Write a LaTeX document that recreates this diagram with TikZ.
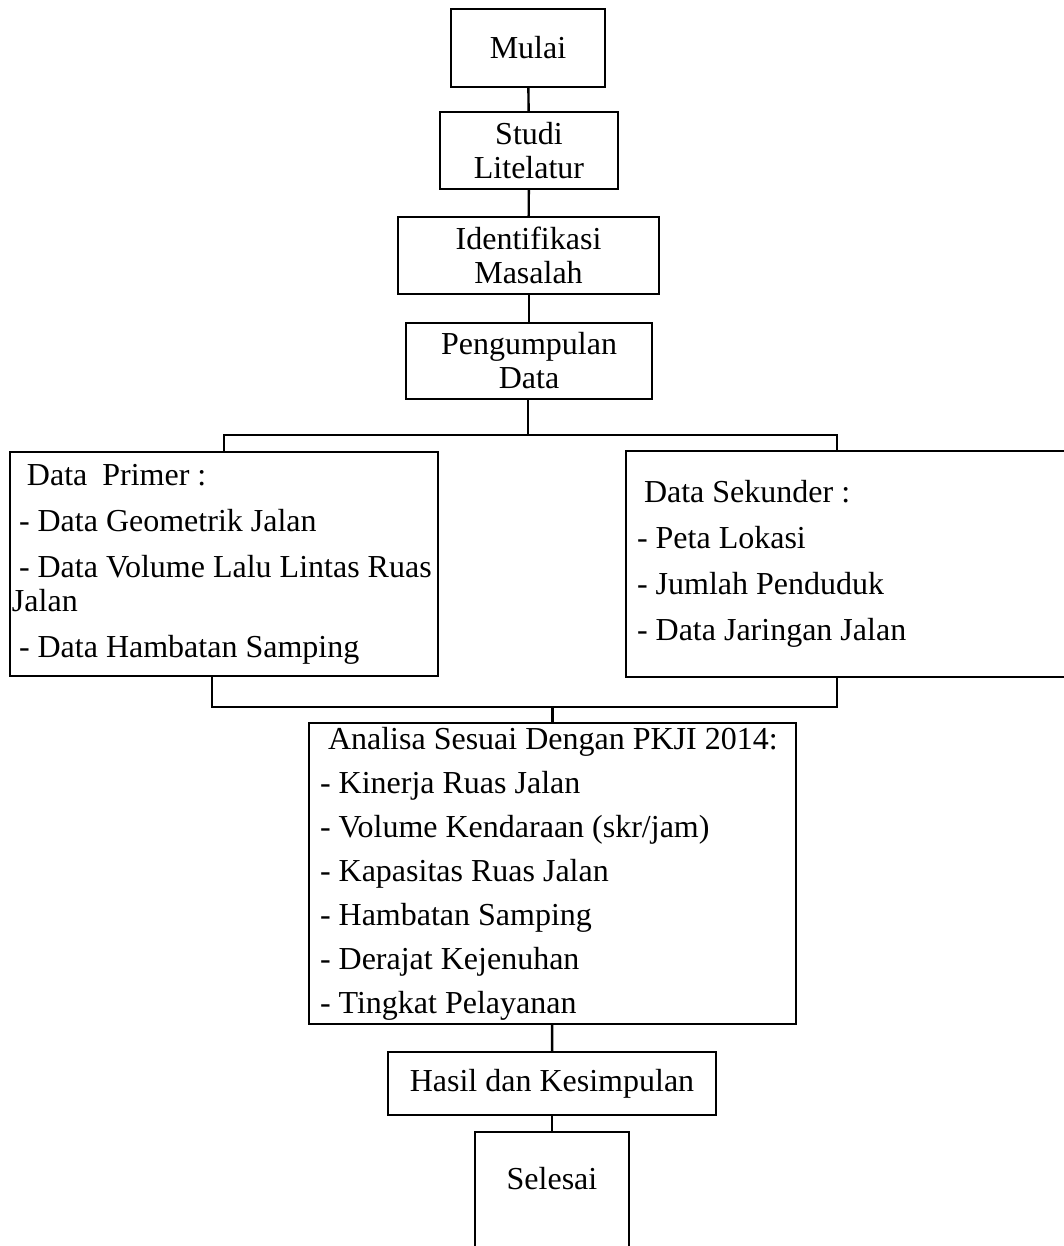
\documentclass[tikz,border=0pt]{standalone}
\usepackage{fontspec}
\setmainfont{Liberation Serif}
\begin{document}
\begin{tikzpicture}[x=1pt,y=-1pt,
  box/.style={draw,line width=2.4pt,inner sep=0pt,align=center,
    font=\fontsize{32}{34}\selectfont},
  listbox/.style={draw,line width=2.4pt,inner ysep=0pt,inner xsep=#1,align=flush left,
    font=\fontsize{32}{34}\selectfont},
  conn/.style={line width=2.4pt}]
\useasboundingbox (0,0) rectangle (1064,1246);
\clip (0,0) rectangle (1064,1246);

\node[box,minimum width=154pt,minimum height=78pt] (mulai) at (528,48) {Mulai};
\node[box,minimum width=178pt,minimum height=77pt] (studi) at (529,150.5) {Studi\\Litelatur};
\node[box,minimum width=261pt,minimum height=77pt] (ident) at (528.5,255.5) {Identifikasi\\Masalah};
\node[box,minimum width=246pt,minimum height=76pt] (peng) at (529,361) {Pengumpulan\\Data};

\node[listbox=2pt,text width=424pt,minimum height=224pt] (prim) at (224,564)
 {\hspace*{15pt}Data\hspace{15pt}Primer :\\[12pt]
  \hspace*{7pt}- Data Geometrik Jalan\\[12pt]
  \hspace*{7pt}- Data Volume Lalu Lintas Ruas\\
  Jalan\\[12pt]
  \hspace*{7pt}- Data Hambatan Samping};

\node[listbox=11pt,text width=462pt,minimum height=226pt] (sek) at (868,564)
 {\hspace*{7pt}Data Sekunder :\\[12pt]
  - Peta Lokasi\\[12pt]
  - Jumlah Penduduk\\[12pt]
  - Data Jaringan Jalan};

\node[listbox=11pt,text width=465pt,minimum height=301pt] (ana) at (552.5,873.5)
 {\hspace*{8pt}Analisa Sesuai Dengan PKJI 2014:\\[10pt]
  - Kinerja Ruas Jalan\\[10pt]
  - Volume Kendaraan (skr/jam)\\[10pt]
  - Kapasitas Ruas Jalan\\[10pt]
  - Hambatan Samping\\[10pt]
  - Derajat Kejenuhan\\[10pt]
  - Tingkat Pelayanan};

\node[box,minimum width=328pt,minimum height=63pt] (hasil) at (552,1083.5) {Hasil dan Kesimpulan};
\node[box,minimum width=154pt,minimum height=130pt,text height=21pt,text depth=36pt] (selesai) at (552,1197) {Selesai};

\draw[conn] (mulai) -- (studi);
\draw[conn] (studi) -- (ident);
\draw[conn] (ident.south -| studi) -- (peng.north -| studi);
\coordinate (tj) at (528,435);
\coordinate (tl) at (224,435);
\coordinate (tr) at (837,435);
\draw[conn] (peng.south -| tj) -- (tj);
\draw[conn] (prim.north -| tl) -- (tl) -- (tr) -- (sek.north -| tr);
\coordinate (bl) at (212,707);
\coordinate (br) at (837,707);
\draw[conn] (prim.south -| bl) -- (bl) -- (br) -- (sek.south -| br);
\draw[conn] (ana.north |- bl) -- (ana.north);
\draw[conn] (ana) -- (hasil);
\draw[conn] (hasil) -- (selesai);
\end{tikzpicture}
\end{document}
